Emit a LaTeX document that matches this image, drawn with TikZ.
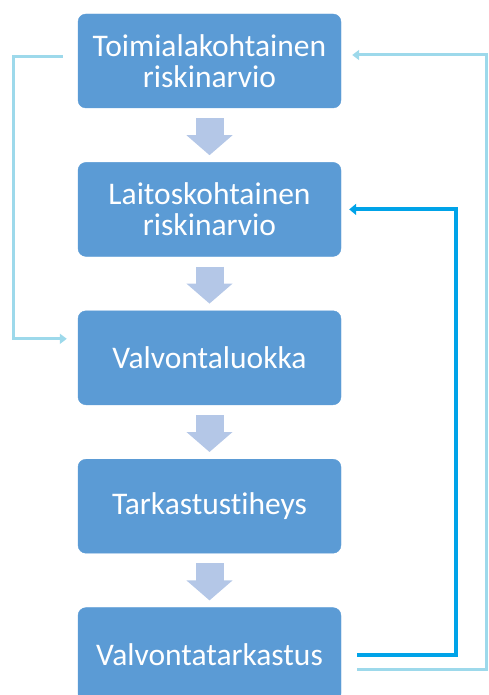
\documentclass[tikz,border=0pt]{standalone}
\usepackage{fontspec}
\setmainfont{Carlito}[Ligatures=NoCommon]
\usepackage{xcolor}
\usetikzlibrary{positioning,arrows.meta}

\definecolor{boxblue}{HTML}{5B9BD5}
\definecolor{flowblue}{HTML}{B4C7E7}
\definecolor{paleline}{HTML}{9DD9EB}
\definecolor{deepline}{HTML}{00A3E8}

\begin{document}
\begin{tikzpicture}[x=1pt, y=1pt, node distance=54pt,
    box/.style={draw=boxblue, fill=boxblue, rounded corners=8pt, text=white,
        minimum width=263pt, minimum height=94pt, inner sep=0pt, align=center,
        font=\fontsize{31.5}{31}\selectfont},
    flow/.style={-{Triangle[width=45pt,length=20pt]}, line width=28pt, flowblue,
        shorten <=10pt, shorten >=7pt},
    pale/.style={-{Triangle[width=10pt,length=7pt]}, line width=3pt, paleline},
    deep/.style={-{Triangle[width=11pt,length=7pt]}, line width=4pt, deepline}]

    \useasboundingbox (0,0) rectangle (488,-695);

    % the five steps
    \node[box] (T) at (209.5,-61) {Toimialakohtainen\\riskinarvio};
    \node[box, below=of T] (L) {Laitoskohtainen\\riskinarvio};
    \node[box, below=of L] (V) {Valvontaluokka};
    \node[box, below=of V] (H) {Tarkastustiheys};
    \node[box, below=of H] (VT) {Valvontatarkastus};

    \path
        (T) edge[flow] (L)
        (L) edge[flow] (V)
        (V) edge[flow] (H)
        (H) edge[flow] (VT);

    % feedback lines
    \coordinate (leftrail) at (13,0);
    \coordinate (outerrail) at (486.5,0);
    \coordinate (innerrail) at (456,0);

    \draw[pale, line join=miter] ([shift={(-15,4)}]T.west) -- ([yshift=4]T.west -| leftrail)
        |- ([shift={(-11,19)}]V.west);
    \draw[pale, line join=miter] ([shift={(16,-15)}]VT.east) -- ([yshift=-15]VT.east -| outerrail)
        |- ([shift={(11,6)}]T.east);
    \draw[deep, line join=miter] ([xshift=16]VT.east) -- (VT.east -| innerrail)
        |- ([xshift=8]L.east);

\end{tikzpicture}
\end{document}
